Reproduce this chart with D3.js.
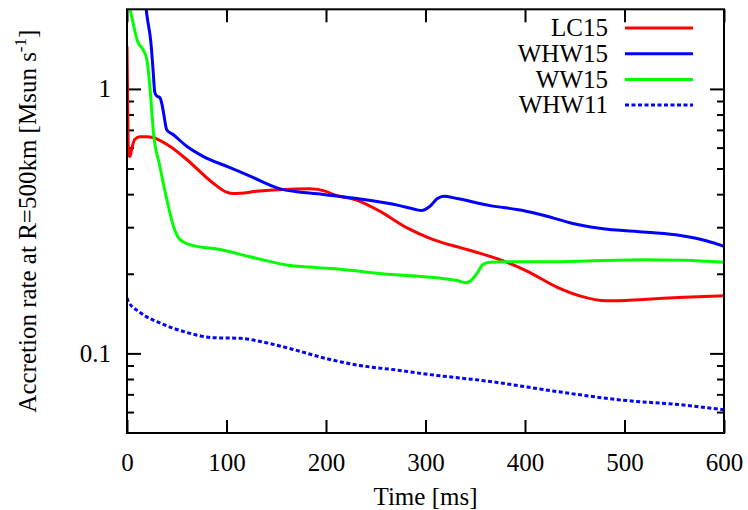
<!DOCTYPE html>
<html>
<head>
<meta charset="utf-8">
<script src="https://cdn.jsdelivr.net/npm/d3@7"></script>
<style>
html,body{margin:0;padding:0;background:#fff;}
svg{display:block;font-family:"Liberation Serif","Times New Roman",serif;}
</style>
</head>
<body>
<svg id="chart" width="748" height="510"></svg>
<script>
// ---- data (time in ms, accretion rate in Msun/s) ----
const seriesNames = ["LC15", "WHW15", "WW15", "WHW11"];
const lc15 = [[0,1.45],[0.5,1.0],[1.2,0.62],[2,0.56],[3,0.555],[5,0.6],[8,0.645],[13,0.66],[20,0.66],[26,0.655],[43,0.607],[60,0.541],[86,0.442],[100,0.407],[107,0.402],[114,0.403],[130,0.41],[157,0.417],[184,0.419],[200,0.41],[207,0.399],[231,0.38],[254,0.345],[281,0.299],[307,0.27],[335,0.251],[355,0.239],[382,0.221],[405,0.202],[432,0.178],[455,0.165],[482,0.158],[519,0.16],[560,0.163],[600,0.165]];
const whw15 = [[17,2.4],[20,1.9],[24,1.5],[26,1.21],[28,0.968],[30,0.94],[33,0.927],[35,0.88],[37,0.8],[40,0.70],[46.6,0.671],[60,0.607],[76.5,0.556],[103.5,0.504],[123.6,0.468],[154,0.419],[197,0.399],[231,0.385],[274,0.362],[290,0.35],[296,0.347],[304.5,0.36],[312,0.385],[318,0.393],[331.6,0.385],[365,0.362],[398,0.347],[422,0.33],[448,0.31],[475,0.297],[522,0.287],[556,0.279],[583,0.266],[600,0.254]];
const ww15 = [[0,2.2],[3,2.0],[11,1.5],[16,1.41],[20,1.29],[23,1.02],[26.6,0.684],[33,0.51],[40,0.382],[46.6,0.303],[53,0.27],[66,0.256],[93.5,0.247],[123.6,0.232],[164,0.215],[190.6,0.211],[214,0.208],[257,0.2],[311,0.193],[331,0.189],[341,0.185],[346,0.189],[351,0.199],[358,0.217],[365,0.221],[380,0.222],[422,0.222],[519,0.226],[560,0.225],[600,0.221]];
const whw11 = [[0,0.162],[1,0.158],[13,0.143],[36,0.129],[60,0.12],[86.6,0.1146],[113.6,0.114],[140,0.1097],[167,0.1035],[200.7,0.0955],[234,0.090],[271,0.0865],[302.5,0.0833],[361.5,0.0786],[428,0.0721],[495.5,0.0667],[562.5,0.0636],[600,0.0612]];
const xTicks = [0, 100, 200, 300, 400, 500, 600];
const yMajorTicks = [0.1, 1];
const yMinorTicks = [0.06, 0.07, 0.08, 0.09, 0.2, 0.3, 0.4, 0.5, 0.6, 0.7, 0.8, 0.9];

// ---- layout ----
const L = 127, R = 724, T = 9.3, B = 433;
const FS = 25;
const svg = d3.select("#chart");
const x = d3.scaleLinear().domain([0, 600]).range([L, R]);
const y = d3.scaleLog().domain([0.05, 2]).range([B, T]);

svg.append("defs").append("clipPath").attr("id", "clip")
  .append("rect").attr("x", L).attr("y", T).attr("width", R - L).attr("height", B - T);

const styleAxis = g => {
  g.select(".domain").remove();
  g.selectAll(".tick line").attr("stroke", "#000").attr("stroke-width", 2);
  g.selectAll(".tick text").attr("fill", "#000").attr("font-size", FS)
    .attr("font-family", "Liberation Serif, Times New Roman, serif");
};

// bottom axis
svg.append("g").attr("transform", `translate(0,${B})`)
  .call(d3.axisBottom(x).tickValues(xTicks).tickSizeInner(-13).tickSizeOuter(0).tickPadding(20).tickFormat(d3.format("d")))
  .call(styleAxis);
// top axis
svg.append("g").attr("transform", `translate(0,${T})`)
  .call(d3.axisTop(x).tickValues(xTicks).tickSizeInner(-13).tickSizeOuter(0).tickFormat(""))
  .call(styleAxis);
// left axis majors
svg.append("g").attr("transform", `translate(${L},0)`)
  .call(d3.axisLeft(y).tickValues(yMajorTicks).tickSizeInner(-14).tickSizeOuter(0).tickPadding(16).tickFormat(d => d === 1 ? "1" : "0.1"))
  .call(styleAxis);
svg.append("g").attr("transform", `translate(${L},0)`)
  .call(d3.axisLeft(y).tickValues(yMinorTicks).tickSizeInner(-7).tickSizeOuter(0).tickFormat(""))
  .call(styleAxis);
// right axis
svg.append("g").attr("transform", `translate(${R},0)`)
  .call(d3.axisRight(y).tickValues(yMajorTicks).tickSizeInner(-14).tickSizeOuter(0).tickFormat(""))
  .call(styleAxis);
svg.append("g").attr("transform", `translate(${R},0)`)
  .call(d3.axisRight(y).tickValues(yMinorTicks).tickSizeInner(-7).tickSizeOuter(0).tickFormat(""))
  .call(styleAxis);

// lines
const line = d3.line().x(d => x(d[0])).y(d => y(d[1])).curve(d3.curveMonotoneX);
const series = [
  {name: seriesNames[0], data: lc15, color: "#ff0000", dash: null},
  {name: seriesNames[1], data: whw15, color: "#0000ff", dash: null},
  {name: seriesNames[2], data: ww15, color: "#00ff00", dash: null},
  {name: seriesNames[3], data: whw11, color: "#0000ff", dash: "4,2.5"}
];
const plot = svg.append("g").attr("clip-path", "url(#clip)");
series.forEach(s => {
  plot.append("path").datum(s.data).attr("d", line)
    .attr("fill", "none").attr("stroke", s.color).attr("stroke-width", 3)
    .attr("stroke-dasharray", s.dash).attr("stroke-linejoin", "round");
});

// frame
svg.append("rect").attr("x", L).attr("y", T).attr("width", R - L).attr("height", B - T)
  .attr("fill", "none").attr("stroke", "#000").attr("stroke-width", 2);

// legend
const leg = svg.append("g");
series.forEach((s, i) => {
  const ly = 28 + i * 25.7;
  leg.append("text").attr("x", 608).attr("y", ly).attr("dy", "0.33em")
    .attr("text-anchor", "end").attr("font-size", FS).text(s.name);
  leg.append("line").attr("x1", 625).attr("x2", 693).attr("y1", ly).attr("y2", ly)
    .attr("stroke", s.color).attr("stroke-width", 3).attr("stroke-dasharray", s.dash);
});

// axis titles
svg.append("text").attr("x", (L + R) / 2).attr("y", 505).attr("text-anchor", "middle")
  .attr("font-size", FS).text("Time [ms]");
const yl = svg.append("text").attr("transform", `translate(36,${(T + B) / 2}) rotate(-90)`)
  .attr("text-anchor", "middle").attr("font-size", FS);
yl.append("tspan").text("Accretion rate at R=500km [Msun s");
yl.append("tspan").attr("font-size", 17).attr("dy", -10).text("-1");
yl.append("tspan").attr("dy", 10).text("]");
</script>
</body>
</html>
